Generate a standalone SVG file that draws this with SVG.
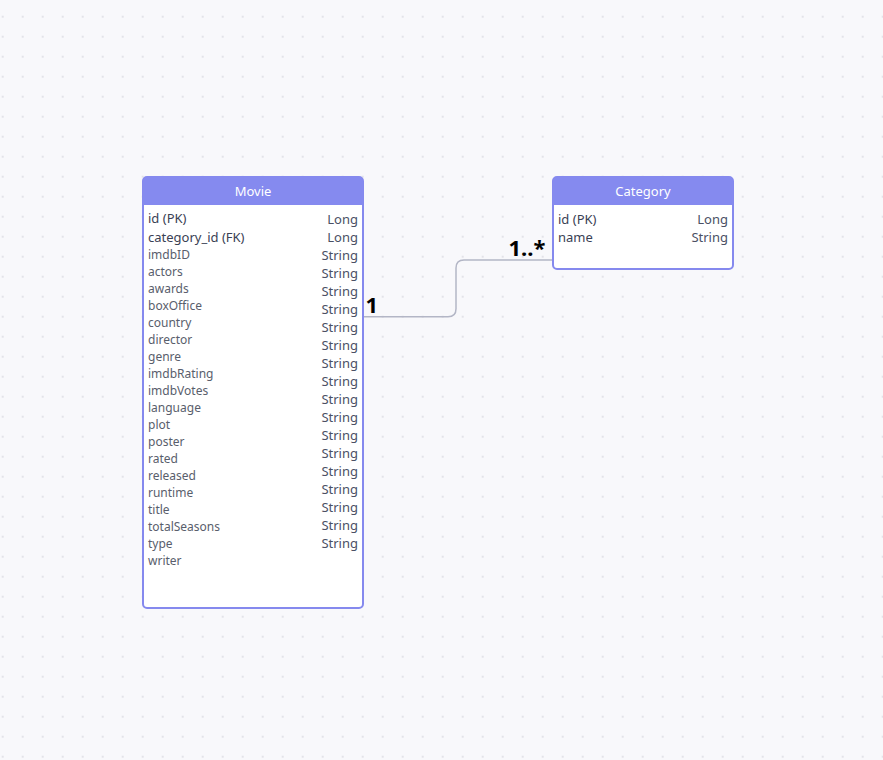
<svg xmlns="http://www.w3.org/2000/svg" width="883" height="760" viewBox="0 0 883 760">
<defs>
<pattern id="dots" x="0" y="0" width="20" height="20" patternUnits="userSpaceOnUse" patternTransform="translate(2.7,16.7)">
<circle cx="0" cy="0" r="1" fill="#dcdde3"/>
<circle cx="20" cy="0" r="1" fill="#dcdde3"/>
<circle cx="0" cy="20" r="1" fill="#dcdde3"/>
<circle cx="20" cy="20" r="1" fill="#dcdde3"/>
</pattern>
<style>
text{font-family:"Noto Sans","Open Sans","Liberation Sans",sans-serif;}
.box{fill:#ffffff;stroke:#8589ee;stroke-width:2;}
.hdr{fill:#858aef;}
.title{fill:#ffffff;font-size:13px;text-anchor:middle;}
.key{fill:#3a4154;font-size:13px;}
.fld{fill:#595e6c;font-size:12px;}
.typ{fill:#4a5064;font-size:13px;text-anchor:end;}
.conn{fill:none;stroke:#b3b6c6;stroke-width:1.5;}
.mult{fill:#000000;font-size:22px;font-weight:bold;}
</style>
</defs>
<rect width="883" height="760" fill="#f8f8fb"/>
<rect width="883" height="760" fill="url(#dots)"/>

<g id="connectors">
<path class="conn" d="M363,316.7 H448 Q456,316.7 456,308.7 V268 Q456,260 464,260 H553"/>
<text class="mult" x="365.5" y="312.5">1</text>
<text class="mult" x="508.5" y="256">1..*</text>
</g>

<g id="node-movie">
<rect class="box" x="143" y="177" width="220" height="431" rx="4"/>
<path class="hdr" d="M143,205 V181 Q143,177 147,177 H359 Q363,177 363,181 V205 Z"/>
<text class="title" x="253" y="196">Movie</text>
<text class="key" x="148" y="223">id (PK)</text>
<text class="key" x="148" y="242">category_id (FK)</text>
<text class="fld" x="148" y="258.5">imdbID</text>
<text class="fld" x="148" y="275.5">actors</text>
<text class="fld" x="148" y="292.5">awards</text>
<text class="fld" x="148" y="309.5">boxOffice</text>
<text class="fld" x="148" y="327">country</text>
<text class="fld" x="148" y="344">director</text>
<text class="fld" x="148" y="360.5">genre</text>
<text class="fld" x="148" y="377.5">imdbRating</text>
<text class="fld" x="148" y="394.5">imdbVotes</text>
<text class="fld" x="148" y="411.5">language</text>
<text class="fld" x="148" y="428.5">plot</text>
<text class="fld" x="148" y="445.5">poster</text>
<text class="fld" x="148" y="462.5">rated</text>
<text class="fld" x="148" y="479.5">released</text>
<text class="fld" x="148" y="496.5">runtime</text>
<text class="fld" x="148" y="513.5">title</text>
<text class="fld" x="148" y="530.5">totalSeasons</text>
<text class="fld" x="148" y="547.5">type</text>
<text class="fld" x="148" y="564.5">writer</text>
<text class="typ" x="358" y="223.5">Long</text>
<text class="typ" x="358" y="241.5">Long</text>
<text class="typ" x="358" y="259.5">String</text>
<text class="typ" x="358" y="277.5">String</text>
<text class="typ" x="358" y="295.5">String</text>
<text class="typ" x="358" y="313.5">String</text>
<text class="typ" x="358" y="331.5">String</text>
<text class="typ" x="358" y="349.5">String</text>
<text class="typ" x="358" y="367.5">String</text>
<text class="typ" x="358" y="385.5">String</text>
<text class="typ" x="358" y="403.5">String</text>
<text class="typ" x="358" y="421.5">String</text>
<text class="typ" x="358" y="439.5">String</text>
<text class="typ" x="358" y="457.5">String</text>
<text class="typ" x="358" y="475.5">String</text>
<text class="typ" x="358" y="493.5">String</text>
<text class="typ" x="358" y="511.5">String</text>
<text class="typ" x="358" y="529.5">String</text>
<text class="typ" x="358" y="547.5">String</text>
</g>

<g id="node-category">
<rect class="box" x="553" y="177" width="180" height="92" rx="4"/>
<path class="hdr" d="M553,205 V181 Q553,177 557,177 H729 Q733,177 733,181 V205 Z"/>
<text class="title" x="643" y="196">Category</text>
<text class="key" x="558" y="223.5">id (PK)</text>
<text class="key" x="558" y="241.5">name</text>
<text class="typ" x="728" y="223.5">Long</text>
<text class="typ" x="728" y="241.5">String</text>
</g>
</svg>
